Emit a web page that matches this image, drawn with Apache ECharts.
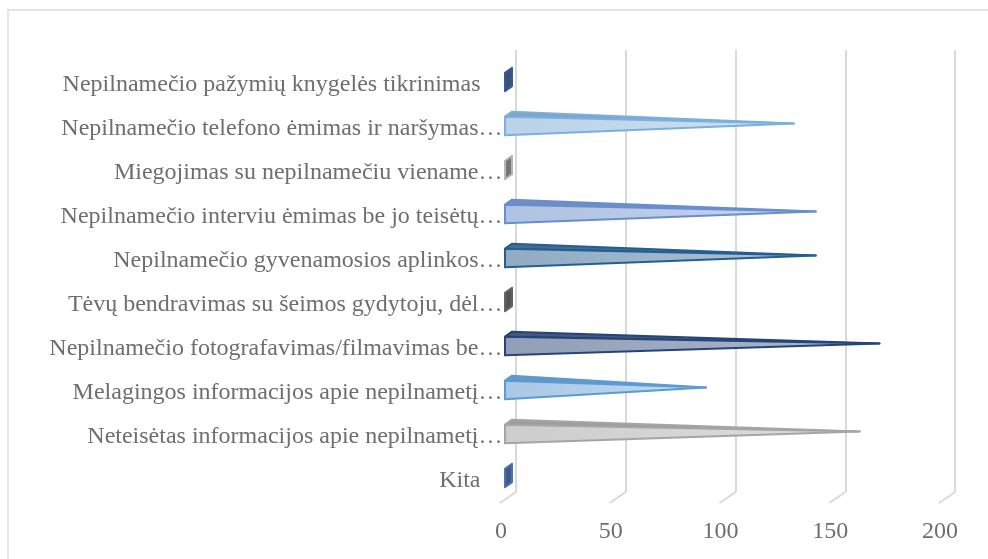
<!DOCTYPE html>
<html>
<head>
<meta charset="utf-8">
<script src="https://cdn.jsdelivr.net/npm/echarts@6/dist/echarts.min.js"></script>
<style>
html,body{margin:0;padding:0;background:#fff;}
#c{width:988px;height:559px;}
</style>
</head>
<body>
<div id="c"></div>
<script>
// Data (top to bottom order)
const categories = [
  'Nepilnamečio pažymių knygelės tikrinimas',
  'Nepilnamečio telefono ėmimas ir naršymas…',
  'Miegojimas su nepilnamečiu viename…',
  'Nepilnamečio interviu ėmimas be jo teisėtų…',
  'Nepilnamečio gyvenamosios aplinkos…',
  'Tėvų bendravimas su šeimos gydytoju, dėl…',
  'Nepilnamečio fotografavimas/filmavimas be…',
  'Melagingos informacijos apie nepilnametį…',
  'Neteisėtas informacijos apie nepilnametį…',
  'Kita'
];
const values = [1, 130, 1, 140, 140, 2, 169, 90, 160, 1];
const xTicks = [0, 50, 100, 150, 200];
const barColors = ['#335AA1','#7CAFDD','#B7B7B7','#698ED0','#255E91','#636363','#264478','#5B9BD5','#A5A5A5','#4472C4'];

function hex(c){c=c.replace('#','');return [parseInt(c.substr(0,2),16),parseInt(c.substr(2,2),16),parseInt(c.substr(4,2),16)];}
function mix(a,b,t){const A=hex(a),B=hex(b);const r=A.map((v,i)=>Math.round(v*(1-t)+B[i]*t));return 'rgb('+r.join(',')+')';}

const chart = echarts.init(document.getElementById('c'), null, {renderer:'canvas'});
const FONT = '"Liberation Serif","Times New Roman",serif';
const TXT = '#6e6e6e';

const option = {
  animation:false,
  backgroundColor:'#fff',
  graphic:[{type:'rect',shape:{x:8,y:10,width:1000,height:600},style:{fill:'none',stroke:'#d9d9d9',lineWidth:1.3},silent:true,z:-1}],
  grid:[
    {left:516,right:33,top:50,bottom:67},
    {left:508.5,right:40.5,top:60,bottom:59}
  ],
  xAxis:[
    {type:'value',gridIndex:0,min:0,max:200,interval:50,
     axisLine:{show:false},axisTick:{show:false},
     splitLine:{lineStyle:{color:'#d9d9d9',width:2}},
     axisLabel:{margin:28,color:TXT,fontFamily:FONT,fontSize:24,
       formatter:v=>'{a|'+v+'}',rich:{a:{padding:[0,30,0,0],fontFamily:FONT,fontSize:24,color:TXT}}}},
    {type:'value',gridIndex:1,min:0,max:200,interval:50,show:false}
  ],
  yAxis:[
    {type:'value',gridIndex:0,min:0,max:1,show:false},
    {type:'category',gridIndex:1,data:categories,inverse:true,
     axisLine:{show:false},axisTick:{show:false},
     axisLabel:{margin:6,color:TXT,fontFamily:FONT,fontSize:24,
       formatter:v=> v.endsWith('…') ? '{t|'+v+'}' : '{n|'+v+'}',
       rich:{
         t:{fontFamily:FONT,fontSize:24,color:TXT,padding:[5,0,0,0]},
         n:{fontFamily:FONT,fontSize:24,color:TXT,padding:[5,22,0,0]}
       }}}
  ],
  series:[
    {type:'custom',xAxisIndex:0,yAxisIndex:0,data:xTicks.map(v=>[v]),silent:true,
     renderItem:(params,api)=>{
       const p=api.coord([api.value(0),0]);
       return {type:'line',shape:{x1:p[0],y1:p[1],x2:p[0]-16,y2:p[1]+11},style:{stroke:'#d9d9d9',lineWidth:2}};
     }},
    {type:'custom',xAxisIndex:1,yAxisIndex:1,data:values.map((v,i)=>[v,i]),silent:true,
     renderItem:(params,api)=>{
       const i=api.value(1), v=api.value(0);
       const col=barColors[i];
       const p0=api.coord([0,i]), p1=api.coord([v,i]);
       const c=p0[1], xf=p0[0]-3.5;
       const dx=7, dy=-5, h=9.2;
       const tip=[p1[0], c-2.5];
       const st={stroke:col,lineWidth:2,lineJoin:'round'};
       const kids=[
         {type:'polygon',shape:{points:[[xf,c-h],[xf,c+h],[xf+dx,c+h+dy],[xf+dx,c-h+dy]]},
          style:Object.assign({fill:mix(col,'#4a4a4a',0.6)},st)}
       ];
       if (tip[0] > xf+dx+4) {
         kids.push({type:'polygon',shape:{points:[[xf,c-h],[xf+dx,c-h+dy],tip]},
          style:Object.assign({fill:mix(col,'#8a8a8a',0.3)},st)});
         kids.push({type:'polygon',shape:{points:[[xf,c-h],[xf,c+h],tip]},
          style:Object.assign({fill:new echarts.graphic.LinearGradient(0,0,1,0,[
            {offset:0,color:mix(col,'#f2f2f2',0.52)},{offset:1,color:mix(col,'#ffffff',0.62)}])},st)});
       }
       return {type:'group',children:kids};
     }}
  ]
};
chart.setOption(option);
</script>
</body>
</html>
